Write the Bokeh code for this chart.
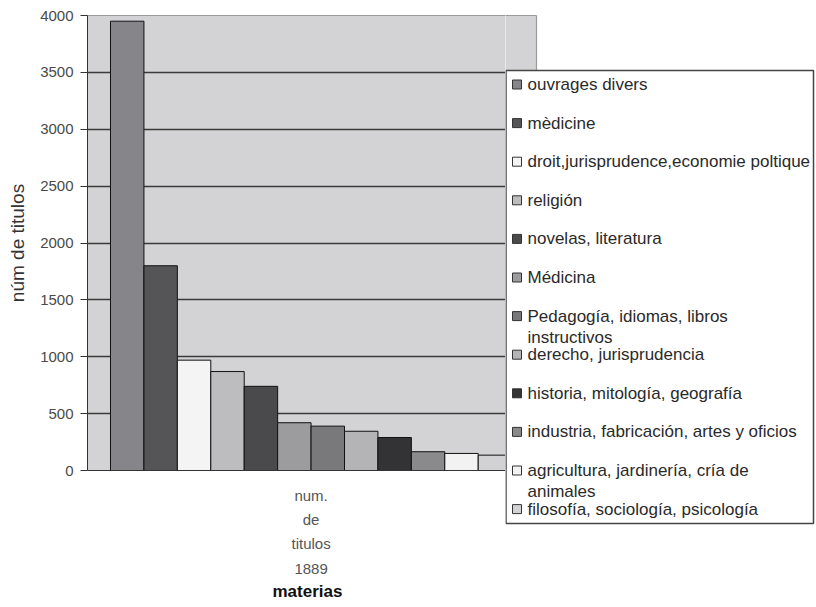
from bokeh.plotting import figure
from bokeh.models import FixedTicker, Range1d, Title, LinearAxis
from bokeh.layouts import row
from bokeh.core.properties import value
from bokeh.embed import file_html
from bokeh.resources import INLINE

categories = [
    "ouvrages divers",
    "mèdicine",
    "droit,jurisprudence,economie poltique",
    "religión",
    "novelas, literatura",
    "Médicina",
    "Pedagogía, idiomas, libros\ninstructivos",
    "derecho, jurisprudencia",
    "historia, mitología, geografía",
    "industria, fabricación, artes y oficios",
    "agricultura, jardinería, cría de\nanimales",
    "filosofía, sociología, psicología",
]
values = [3950, 1800, 970, 870, 740, 420, 390, 345, 290, 165, 150, 135]
colors = ["#86868a", "#555557", "#f4f4f4", "#bdbdbf", "#4a4a4c", "#9c9c9e",
          "#79797b", "#b4b4b6", "#333335", "#8a8a8c", "#f2f2f2", "#d2d2d4"]
y_ticks = [0, 500, 1000, 1500, 2000, 2500, 3000, 3500, 4000]
y_tick_labels = ["0", "500", "1000", "1500", "2000", "2500", "3000", "3500", "4000"]
group_label = "num.\nde\ntitulos\n1889"
x_title = "materias"
y_title = "núm de titulos"

FONT = "Liberation Sans"
PLOT_BG = "#d3d3d5"
EDGE = "#9a9a9a"

# ---------------- main chart ----------------
p = figure(width=505, height=607, output_backend="svg", toolbar_location=None,
           x_range=Range1d(-0.188, 12.316), y_range=Range1d(0, 4000),
           min_border_left=87, min_border_right=0, min_border_top=15,
           min_border_bottom=137)
p.frame_align = False

p.background_fill_color = PLOT_BG
p.border_fill_color = "white"
p.outline_line_color = None

xs = list(range(1, len(values) + 1))
p.vbar(x=xs, top=values, bottom=0, width=1, fill_color=colors,
       line_color="#111111", line_width=1)

p.xgrid.grid_line_color = None
p.ygrid.grid_line_color = "#3a3a3a"
p.ygrid.grid_line_width = 1.4
p.ygrid.ticker = FixedTicker(ticks=y_ticks[1:-1])

p.yaxis.ticker = FixedTicker(ticks=y_ticks)
p.yaxis.major_label_overrides = {t: l for t, l in zip(y_ticks, y_tick_labels)}
p.yaxis.minor_tick_line_color = None
p.yaxis.major_tick_in = 0
p.yaxis.major_tick_out = 7
p.yaxis.major_tick_line_color = "#333333"
p.yaxis.axis_line_color = "#333333"
p.yaxis.major_label_text_font = FONT
p.yaxis.major_label_text_font_size = "15px"
p.yaxis.major_label_text_color = "#4a4a4a"
p.yaxis.major_label_standoff = 7
p.yaxis.axis_label = y_title
p.yaxis.axis_label_text_font = FONT
p.yaxis.axis_label_text_font_size = "19px"
p.yaxis.axis_label_text_font_style = "normal"
p.yaxis.axis_label_text_color = "#333333"
p.yaxis.axis_label_standoff = 9

center = (len(values) + 1) / 2
p.xaxis.ticker = FixedTicker(ticks=[center])
p.xaxis.major_label_overrides = {center: group_label}
p.xaxis.minor_tick_line_color = None
p.xaxis.major_tick_in = 0
p.xaxis.major_tick_out = 0
p.xaxis.axis_line_color = "#333333"
p.xaxis.major_label_text_font = FONT
p.xaxis.major_label_text_font_size = "15px"
p.xaxis.major_label_text_color = "#555555"
p.xaxis.major_label_text_line_height = 1.44
p.xaxis.major_label_standoff = 16

# thin light border along the top of the plot area
top_edge = LinearAxis(axis_line_color=EDGE, axis_line_width=1.2,
                      major_tick_line_color=None, minor_tick_line_color=None,
                      major_tick_in=0, major_tick_out=0,
                      major_label_text_font_size="0px", major_label_standoff=0)
top_edge.ticker = FixedTicker(ticks=[])
p.add_layout(top_edge, "above")

t = Title(text=x_title, align="left", offset=185, text_font=FONT,
          text_font_size="17px", text_font_style="bold", text_color="#111111",
          standoff=0)
p.add_layout(t, "below")

# ---------------- legend panel ----------------
L_W, L_H = 311, 607
lg = figure(width=L_W, height=L_H, output_backend="svg", toolbar_location=None,
            x_range=Range1d(0, L_W), y_range=Range1d(L_H, 0),
            x_axis_type=None, y_axis_type=None,
            min_border_left=0, min_border_right=0, min_border_top=0,
            min_border_bottom=0)
lg.frame_align = False
lg.outline_line_color = None
lg.background_fill_color = "white"
lg.border_fill_color = "white"
lg.grid.grid_line_color = None

# continuation of the plot area above the legend box
lg.quad(left=-1, right=31, top=15, bottom=70, fill_color=PLOT_BG, line_color=None)
lg.segment(x0=[-1, 31], y0=[15, 15], x1=[31, 31], y1=[15, 70],
           line_color=EDGE, line_width=1.2)

# legend box
box_left, box_top, box_right, box_bottom = 0.5, 70, 308, 523
lg.quad(left=box_left, right=box_right, top=box_top, bottom=box_bottom,
        fill_color="white", line_color="#444444", line_width=1.5)

first_y, pitch = 84, 38.6
sw_x, sw_size, txt_x, line_gap = 11.5, 9, 22, 21
sx, sy, tx, ty, tt = [], [], [], [], []
for i, cat in enumerate(categories):
    yc = first_y + i * pitch
    sx.append(sw_x)
    sy.append(yc)
    for k, line in enumerate(cat.split("\n")):
        tx.append(txt_x)
        ty.append(yc + k * line_gap)
        tt.append(line)

lg.rect(x=sx, y=sy, width=sw_size, height=sw_size, fill_color=colors,
        line_color="#333333", line_width=1)
lg.text(x=tx, y=ty, text=tt, text_font=value(FONT), text_font_size="17px",
        text_color="#2a2a2a", text_baseline="middle", text_align="left")

layout = row(p, lg, spacing=0)
open("out.html", "w").write(file_html(layout, INLINE))
